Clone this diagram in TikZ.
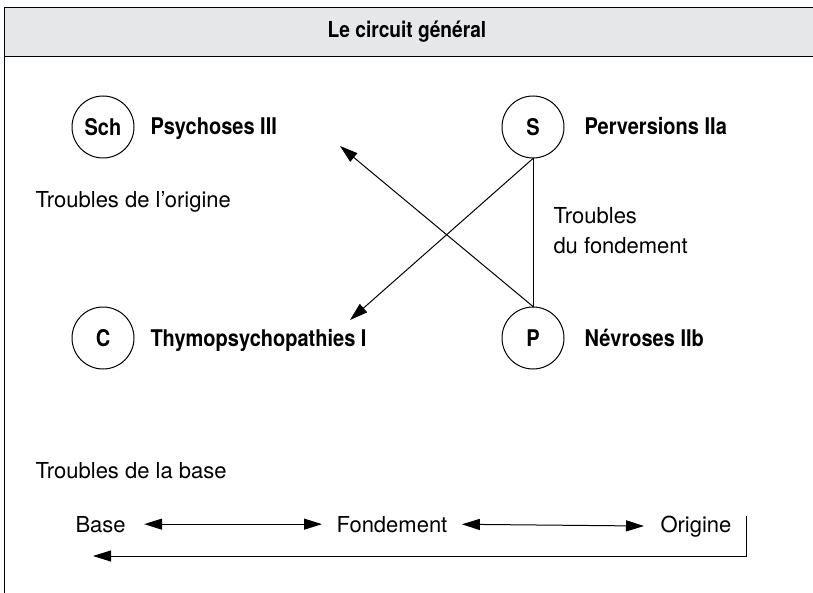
\documentclass[tikz,border=0pt]{standalone}
\usepackage{fontspec}
\setmainfont{TeX Gyre Heros}[BoldFeatures={FakeStretch=0.87}]
\usetikzlibrary{arrows.meta}

\newcommand\taille{\fontsize{11}{13}\selectfont}
\newcommand\tailletitre{\fontsize{11.5}{13}\selectfont}
\definecolor{entete}{RGB}{230,231,232}
\tikzset{
  pole/.style={draw,circle,minimum size=31pt,inner sep=0pt,font=\tailletitre\bfseries},
  titre/.style={anchor=base west,inner sep=0pt,font=\tailletitre\bfseries},
  legende/.style={anchor=base west,inner sep=0pt,font=\taille},
  fleche/.style={-{Triangle[length=9pt,width=5.5pt]}},
  doublefleche/.style={{Triangle[length=9pt,width=5.5pt]}-{Triangle[length=9pt,width=5.5pt]}}
}

\begin{document}
\begin{tikzpicture}[x=0.5pt,y=-0.5pt,line width=0.5pt]
  \useasboundingbox (0,0) rectangle (813,593);

  % cadre et en-tete
  \fill[entete] (4,8) rectangle (813,57);
  \draw (4,593) -- (4,8) -- (813,8);
  \draw (4,57) -- (813,57);
  \node[font=\taille\bfseries] (entete) at (407,32) {Le circuit général};

  % les quatre poles
  \node[pole] (sch) at (103,127) {Sch};
  \node[pole] (s) at (533,127) {S};
  \node[pole] (c) at (103,338) {C};
  \node[pole] (p) at (533,338) {P};

  \node[titre] (psy) at (150,135) {Psychoses III};
  \node[titre] (perv) at (584,135) {Perversions IIa};
  \node[titre] (thymo) at (150,346) {Thymopsychopathies I};
  \node[titre] (nevr) at (584,346) {Névroses IIb};

  \node[legende] (origtr) at (35,208) {Troubles de l’origine};
  \node[legende] (fondtr1) at (553,224) {Troubles};
  \node[legende] (fondtr2) at (553,253) {du fondement};
  \node[legende] (basetr) at (35,478) {Troubles de la base};

  % le circuit
  \coordinate (pointe1) at (340,146);
  \coordinate (pointe2) at (350,320);
  \draw (s.south) -- (p.north);
  \draw[fleche] (p.north) -- (pointe1);
  \draw[fleche] (s.south) -- (pointe2);

  % base -- fondement -- origine
  \node[legende] (base) at (75,532) {Base};
  \node[legende] (fond) at (336,532) {Fondement};
  \node[legende] (orig) at (660,532) {Origine};
  \draw[doublefleche,shorten <=9pt,shorten >=7pt] (base.east) -- (fond.west);
  \draw[doublefleche,shorten <=7pt,shorten >=8pt] (fond.east) -- (orig.west);

  \coordinate (rhaut) at (746,516);
  \coordinate (rcoin) at (746,556);
  \coordinate (rfin) at (93,556);
  \draw[fleche] (rhaut) -- (rcoin) -- (rfin);
\end{tikzpicture}
\end{document}
